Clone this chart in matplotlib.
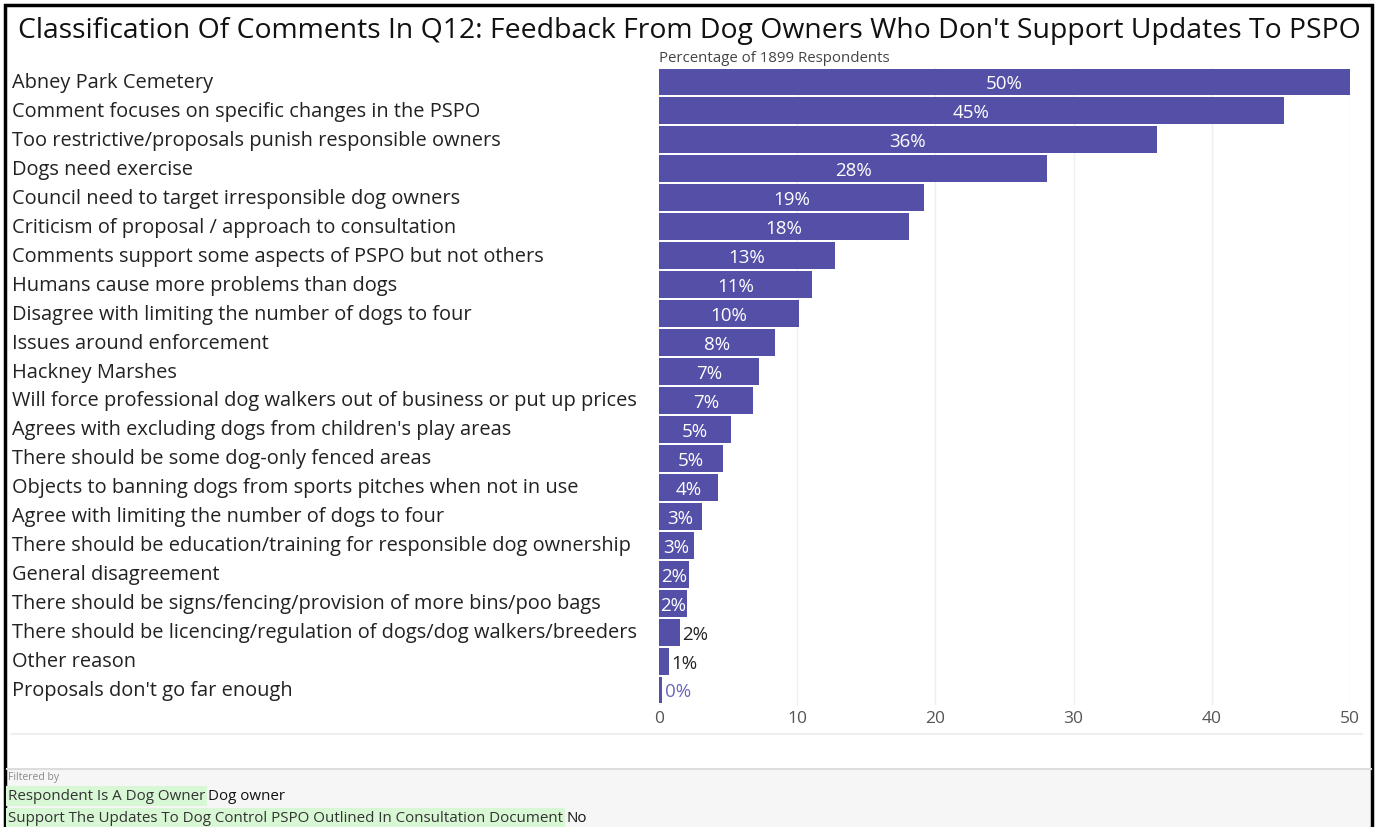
import matplotlib.pyplot as plt
from matplotlib.patches import Rectangle
import matplotlib.transforms as mtransforms

plt.rcParams['font.family'] = ['Open Sans', 'DejaVu Sans']

categories = [
    "Abney Park Cemetery",
    "Comment focuses on specific changes in the PSPO",
    "Too restrictive/proposals punish responsible owners",
    "Dogs need exercise",
    "Council need to target irresponsible dog owners",
    "Criticism of proposal / approach to consultation",
    "Comments support some aspects of PSPO but not others",
    "Humans cause more problems than dogs",
    "Disagree with limiting the number of dogs to four",
    "Issues around enforcement",
    "Hackney Marshes",
    "Will force professional dog walkers out of business or put up prices",
    "Agrees with excluding dogs from children's play areas",
    "There should be some dog-only fenced areas",
    "Objects to banning dogs from sports pitches when not in use",
    "Agree with limiting the number of dogs to four",
    "There should be education/training for responsible dog ownership",
    "General disagreement",
    "There should be signs/fencing/provision of more bins/poo bags",
    "There should be licencing/regulation of dogs/dog walkers/breeders",
    "Other reason",
    "Proposals don't go far enough",
]
values = [50.0, 45.2, 36.0, 28.1, 19.2, 18.1, 12.7, 11.1, 10.1, 8.4, 7.2, 6.8,
          5.2, 4.6, 4.3, 3.1, 2.5, 2.2, 2.0, 1.5, 0.7, 0.2]
labels = ["50%", "45%", "36%", "28%", "19%", "18%", "13%", "11%", "10%", "8%",
          "7%", "7%", "5%", "5%", "4%", "3%", "3%", "2%", "2%", "2%", "1%", "0%"]
xticks = [0, 10, 20, 30, 40, 50]

bar_color = '#5450a8'

fig = plt.figure(figsize=(13.8, 8.28), dpi=100)
ax = fig.add_axes([659 / 1380, 1 - 705.5 / 828, (1350 - 659) / 1380, (705.5 - 68.5) / 828])

ypos = list(range(len(categories)))
ax.barh(ypos, values, height=0.93, color=bar_color, zorder=2)
ax.set_ylim(len(categories) - 0.5, -0.5)
ax.set_xlim(0, 50)

# category labels, left aligned at the figure edge
trans = mtransforms.blended_transform_factory(fig.transFigure, ax.transData)
for y, c in zip(ypos, categories):
    ax.text(12 / 1380, y, c, transform=trans, ha='left', va='center',
            fontsize=14.4, color='#222222', clip_on=False)

for y, v, lab in zip(ypos, values, labels):
    if v >= 1.8:
        ax.text(v / 2, y + 0.05, lab, ha='center', va='center', color='white', fontsize=13.5, zorder=3)
    else:
        col = '#6a66b8' if v < 0.5 else '#222222'
        ax.text(v + 0.2, y + 0.05, lab, ha='left', va='center', color=col, fontsize=13.5, zorder=3)

ax.set_yticks([])
ax.set_xticks(xticks)
ax.tick_params(axis='x', length=0, pad=4, labelsize=12.5, labelcolor='#555555')
ax.grid(axis='x', color='#eeeeee', linewidth=1, zorder=0)
for s in ax.spines.values():
    s.set_visible(False)

fig.text(659 / 1380, 1 - 59 / 828, "Percentage of 1899 Respondents", ha='left', va='center',
         fontsize=10.8, color='#444444')

fig.text(18 / 1380, 1 - 31 / 828,
         "Classification Of Comments In Q12: Feedback From Dog Owners Who Don't Support Updates To PSPO",
         ha='left', va='center', fontsize=20.4, color='#111111')

# separator lines and filter area
fig.add_artist(plt.Line2D([12 / 1380, 1362 / 1380], [1 - 735 / 828] * 2, color='#eeeeee', lw=1.5))
fig.add_artist(Rectangle((7 / 1380, 0), 1364 / 1380, 1 - 770 / 828, transform=fig.transFigure,
                         facecolor='#f6f6f6', edgecolor='none'))
fig.add_artist(plt.Line2D([7 / 1380, 1371 / 1380], [1 - 770 / 828] * 2, color='#dddddd', lw=1.5))

# outer border
fig.add_artist(Rectangle((5 / 1380, -0.01), 1367 / 1380, 1 - 6 / 828 + 0.01, transform=fig.transFigure,
                         facecolor='none', edgecolor='black', lw=2.5))

fig.text(8 / 1380, 1 - 778 / 828, "Filtered by", ha='left', va='center', fontsize=7.5, color='#888888')
filters = [("Respondent Is A Dog Owner", "Dog owner", 797),
           ("Support The Updates To Dog Control PSPO Outlined In Consultation Document", "No", 819)]
key_texts = []
for key, val, yy in filters:
    t = fig.text(8 / 1380, 1 - yy / 828, key, ha='left', va='center', fontsize=10.9, color='#333333',
                 bbox=dict(facecolor='#d8f7d4', edgecolor='none', pad=1.5))
    key_texts.append((t, val, yy))

fig.canvas.draw()
renderer = fig.canvas.get_renderer()
for t, val, yy in key_texts:
    bb = t.get_window_extent(renderer)
    fig.text((bb.x1 + 3) / 1380, 1 - yy / 828, val, ha='left', va='center', fontsize=10.9, color='#111111')

fig.savefig('out.png', dpi=100)
